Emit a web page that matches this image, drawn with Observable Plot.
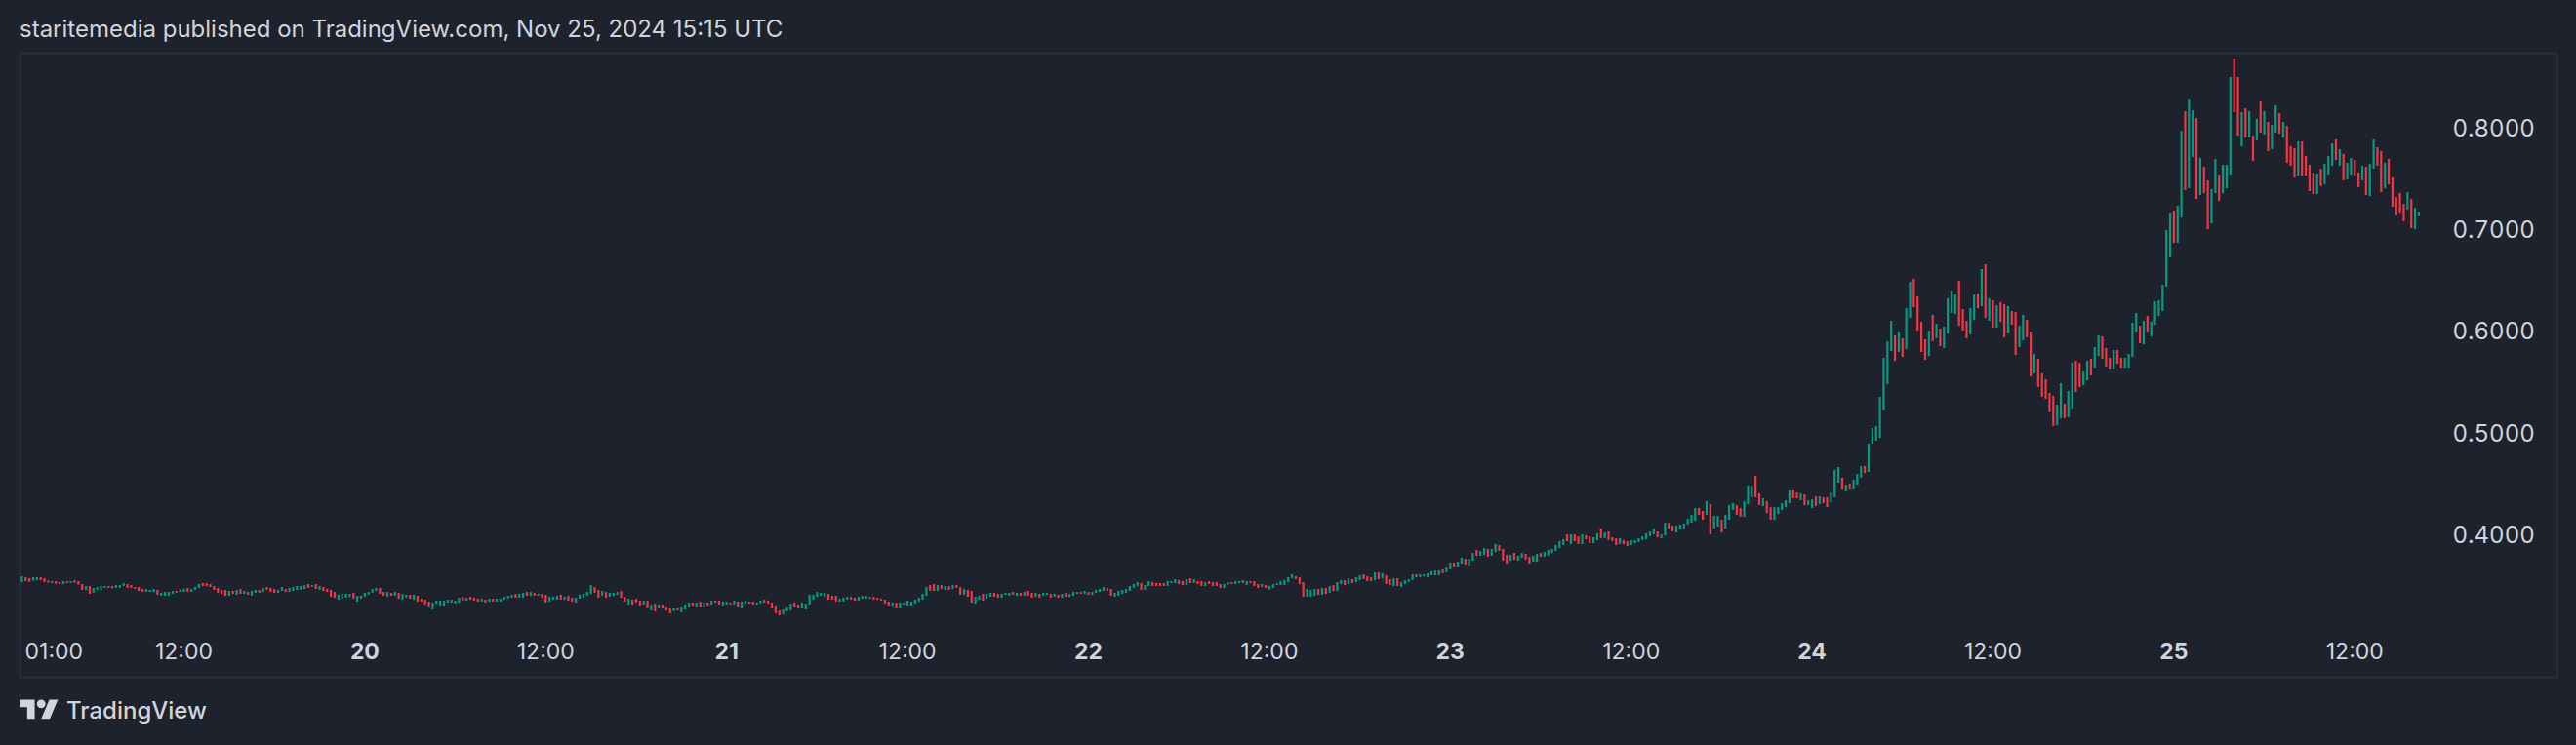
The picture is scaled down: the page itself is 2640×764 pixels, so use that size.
<!DOCTYPE html>
<html>
<head>
<meta charset="utf-8">
<script src="https://cdn.jsdelivr.net/npm/d3@7"></script>
<script src="https://cdn.jsdelivr.net/npm/@observablehq/plot@0.6"></script>
<style>
  html, body { margin: 0; padding: 0; background: #1e222d; }
  #root { position: relative; width: 2640px; height: 764px; overflow: hidden; background: #1e222d; font-family: Inter, "Noto Sans", sans-serif; }
  #title { position: absolute; left: 20px; top: 18px; font-size: 24px; line-height: 24px; color: #d1d4dc; white-space: nowrap; }
  #chart { position: absolute; left: 0; top: 44px; }
  #chart svg { display: block; }
  #brand { position: absolute; left: 20px; top: 712px; height: 32px; display: flex; align-items: center; color: #d1d4dc; font-size: 24px; font-weight: 500; }
  #brand svg { display: block; margin-right: 8px; }
</style>
</head>
<body>
<div id="root">
  <div id="title">staritemedia published on TradingView.com, Nov 25, 2024 15:15 UTC</div>
  <div id="chart"></div>
  <div id="brand">
    <svg width="40" height="31" viewBox="0 0 36 28"><path fill="#d1d4dc" d="M14 22H7V11H0V4h14v18zM28 22h-8l7.5-18h8L28 22z"/><circle fill="#d1d4dc" cx="20" cy="8" r="4"/></svg>
    <span>TradingView</span>
  </div>
</div>
<script>
// ---- Data: 15-minute candles (chart time, UTC+1), first bar Nov 19 01:15 ----
const startTime = "2024-11-19T01:15:00Z";
const stepMinutes = 15;

const open = [
/*0*/ .3540,.3588,.3579,.3553,.3559,.3588,.3579,.3556,.3531,.3550,
/*10*/ .3540,.3521,.3550,.3531,.3559,.3550,.3521,.3464,.3502,.3435,
/*20*/ .3464,.3464,.3483,.3502,.3502,.3483,.3483,.3502,.3521,.3511,
/*30*/ .3492,.3492,.3473,.3444,.3444,.3444,.3464,.3406,.3406,.3406,
/*40*/ .3425,.3454,.3444,.3444,.3483,.3444,.3464,.3483,.3531,.3531,
/*50*/ .3521,.3502,.3483,.3464,.3464,.3406,.3454,.3416,.3473,.3425,
/*60*/ .3444,.3406,.3435,.3464,.3444,.3492,.3483,.3473,.3435,.3454,
/*70*/ .3473,.3444,.3454,.3464,.3464,.3473,.3521,.3492,.3521,.3464,
/*80*/ .3492,.3473,.3464,.3444,.3368,.3377,.3387,.3396,.3435,.3349,
/*90*/ .3377,.3396,.3416,.3435,.3454,.3483,.3444,.3396,.3435,.3406,
/*100*/ .3435,.3368,.3387,.3416,.3368,.3406,.3377,.3368,.3349,.3272,
/*110*/ .3329,.3310,.3310,.3339,.3339,.3329,.3339,.3396,.3358,.3396,
/*120*/ .3387,.3377,.3349,.3368,.3349,.3377,.3349,.3349,.3368,.3377,
/*130*/ .3387,.3425,.3387,.3387,.3444,.3406,.3435,.3406,.3425,.3416,
/*140*/ .3349,.3368,.3368,.3416,.3368,.3406,.3387,.3339,.3377,.3387,
/*150*/ .3406,.3425,.3492,.3464,.3406,.3444,.3396,.3406,.3416,.3454,
/*160*/ .3396,.3320,.3368,.3377,.3358,.3320,.3358,.3262,.3329,.3282,
/*170*/ .3320,.3301,.3282,.3253,.3291,.3243,.3272,.3301,.3339,.3301,
/*180*/ .3349,.3301,.3339,.3320,.3358,.3358,.3310,.3320,.3339,.3320,
/*190*/ .3349,.3291,.3329,.3349,.3349,.3320,.3329,.3368,.3358,.3339,
/*200*/ .3310,.3262,.3224,.3253,.3262,.3339,.3320,.3282,.3272,.3320,
/*210*/ .3368,.3396,.3406,.3396,.3425,.3406,.3406,.3349,.3349,.3368,
/*220*/ .3396,.3387,.3358,.3377,.3377,.3377,.3396,.3387,.3377,.3368,
/*230*/ .3349,.3310,.3339,.3291,.3320,.3310,.3310,.3329,.3349,.3368,
/*240*/ .3406,.3511,.3521,.3454,.3511,.3464,.3502,.3473,.3511,.3492,
/*250*/ .3416,.3464,.3454,.3329,.3368,.3425,.3377,.3396,.3435,.3425,
/*260*/ .3387,.3416,.3406,.3444,.3406,.3435,.3406,.3454,.3435,.3396,
/*270*/ .3425,.3406,.3416,.3425,.3396,.3416,.3387,.3435,.3396,.3406,
/*280*/ .3425,.3444,.3425,.3444,.3416,.3435,.3444,.3454,.3483,.3473,
/*290*/ .3396,.3406,.3425,.3435,.3454,.3483,.3502,.3531,.3464,.3502,
/*300*/ .3540,.3531,.3531,.3531,.3502,.3531,.3531,.3559,.3550,.3511,
/*310*/ .3578,.3531,.3550,.3550,.3502,.3550,.3540,.3540,.3521,.3483,
/*320*/ .3511,.3540,.3521,.3531,.3559,.3511,.3550,.3550,.3521,.3492,
/*330*/ .3511,.3464,.3483,.3511,.3511,.3511,.3540,.3578,.3598,.3588,
/*340*/ .3540,.3396,.3396,.3406,.3473,.3416,.3483,.3435,.3511,.3454,
/*350*/ .3521,.3559,.3521,.3569,.3540,.3559,.3617,.3598,.3588,.3559,
/*360*/ .3636,.3578,.3607,.3569,.3502,.3578,.3492,.3521,.3540,.3559,
/*370*/ .3617,.3588,.3598,.3588,.3607,.3607,.3607,.3665,.3636,.3665,
/*380*/ .3732,.3693,.3722,.3770,.3703,.3751,.3856,.3799,.3808,.3866,
/*390*/ .3799,.3837,.3904,.3866,.3808,.3751,.3827,.3751,.3780,.3818,
/*400*/ .3789,.3741,.3741,.3827,.3789,.3799,.3827,.3847,.3875,.3904,
/*410*/ .4009,.3914,.4009,.3990,.3914,.4000,.3990,.3923,.3952,.4067,
/*420*/ .3971,.4038,.3981,.3971,.3914,.3952,.3942,.3904,.3923,.3933,
/*430*/ .3952,.3961,.3990,.4009,.4038,.3971,.4000,.4124,.4095,.4028,
/*440*/ .4057,.4067,.4105,.4124,.4143,.4268,.4239,.4201,.4306,.4067,
/*450*/ .4086,.4153,.4067,.4153,.4249,.4297,.4268,.4182,.4306,.4373,
/*460*/ .4584,.4412,.4287,.4335,.4277,.4153,.4210,.4249,.4277,.4316,
/*470*/ .4450,.4421,.4345,.4402,.4297,.4268,.4383,.4306,.4373,.4373,
/*480*/ .4325,.4373,.4517,.4565,.4431,.4507,.4459,.4498,.4565,.4680,
/*490*/ .4622,.4900,.4930,.4958,.5235,.5485,.5810,.5963,.5801,.5935,
/*500*/ .5829,.6136,.6519,.6347,.6098,.5925,.5762,.6165,.5935,.6031,
/*510*/ .5839,.5983,.6184,.6174,.6500,.6222,.6107,.5973,.6117,.6375,
/*520*/ .6251,.6663,.6107,.6308,.6040,.6289,.6270,.5992,.6203,.6193,
/*530*/ .5848,.5916,.6117,.6002,.5590,.5734,.5590,.5532,.5398,.5370,
/*540*/ .5082,.5149,.5293,.5159,.5245,.5714,.5695,.5475,.5523,.5734,
/*550*/ .5647,.5762,.5954,.5839,.5743,.5638,.5820,.5743,.5647,.5647,
/*560*/ .5753,.6002,.6059,.5877,.6155,.5954,.6069,.6155,.6203,.6442,
/*570*/ .6730,.7189,.6873,.7122,.8166,.7410,.7716,.8099,.7343,.7620,
/*580*/ .7487,.7065,.7362,.7544,.7362,.7410,.7544,.8684,.8502,.7822,
/*590*/ .8195,.7908,.7927,.7879,.8262,.7937,.8061,.7793,.7956,.8147,
/*600*/ .7908,.8023,.7822,.7803,.7534,.7870,.7726,.7640,.7563,.7352,
/*610*/ .7601,.7448,.7544,.7630,.7889,.7630,.7745,.7496,.7544,.7688,
/*620*/ .7563,.7487,.7620,.7333,.7601,.7812,.7774,.7410,.7697,.7515,
/*630*/ .7323,.7362,.7256,.7199,.7304,.7007,.7141
];

const close = [
/*0*/ .3598,.3550,.3543,.3588,.3588,.3559,.3540,.3534,.3550,.3524,
/*10*/ .3521,.3550,.3531,.3550,.3534,.3515,.3464,.3502,.3425,.3483,
/*20*/ .3492,.3502,.3502,.3483,.3479,.3511,.3511,.3531,.3483,.3483,
/*30*/ .3473,.3454,.3444,.3473,.3464,.3473,.3416,.3435,.3444,.3444,
/*40*/ .3454,.3435,.3464,.3473,.3444,.3473,.3492,.3521,.3502,.3502,
/*50*/ .3492,.3464,.3435,.3425,.3406,.3454,.3425,.3464,.3425,.3454,
/*60*/ .3416,.3454,.3464,.3435,.3483,.3464,.3444,.3435,.3464,.3492,
/*70*/ .3444,.3483,.3492,.3502,.3502,.3511,.3483,.3511,.3473,.3502,
/*80*/ .3454,.3444,.3396,.3387,.3416,.3425,.3425,.3425,.3377,.3406,
/*90*/ .3406,.3435,.3444,.3473,.3483,.3425,.3406,.3444,.3406,.3444,
/*100*/ .3377,.3425,.3416,.3377,.3416,.3349,.3349,.3320,.3301,.3339,
/*110*/ .3358,.3358,.3358,.3368,.3368,.3358,.3387,.3358,.3387,.3368,
/*120*/ .3358,.3349,.3377,.3339,.3377,.3349,.3377,.3377,.3396,.3406,
/*130*/ .3416,.3387,.3425,.3435,.3406,.3444,.3406,.3425,.3387,.3339,
/*140*/ .3396,.3396,.3406,.3368,.3396,.3358,.3349,.3387,.3416,.3425,
/*150*/ .3444,.3511,.3435,.3387,.3454,.3387,.3435,.3435,.3444,.3387,
/*160*/ .3349,.3377,.3320,.3339,.3310,.3358,.3291,.3320,.3253,.3320,
/*170*/ .3282,.3262,.3234,.3282,.3262,.3301,.3320,.3339,.3310,.3339,
/*180*/ .3301,.3339,.3310,.3358,.3339,.3320,.3349,.3349,.3320,.3358,
/*190*/ .3301,.3349,.3358,.3329,.3320,.3339,.3358,.3339,.3329,.3291,
/*200*/ .3234,.3214,.3272,.3301,.3329,.3301,.3282,.3339,.3329,.3416,
/*210*/ .3416,.3444,.3435,.3435,.3368,.3368,.3349,.3377,.3387,.3396,
/*220*/ .3368,.3358,.3396,.3406,.3406,.3396,.3368,.3368,.3358,.3329,
/*230*/ .3310,.3339,.3291,.3339,.3339,.3358,.3349,.3368,.3387,.3425,
/*240*/ .3492,.3454,.3454,.3511,.3473,.3502,.3464,.3511,.3483,.3416,
/*250*/ .3473,.3396,.3339,.3396,.3406,.3358,.3425,.3435,.3396,.3387,
/*260*/ .3425,.3435,.3435,.3416,.3435,.3406,.3444,.3406,.3387,.3435,
/*270*/ .3387,.3435,.3435,.3387,.3425,.3387,.3425,.3396,.3425,.3444,
/*280*/ .3444,.3425,.3454,.3416,.3444,.3464,.3473,.3492,.3454,.3406,
/*290*/ .3435,.3454,.3464,.3473,.3502,.3521,.3540,.3464,.3511,.3550,
/*300*/ .3502,.3502,.3502,.3502,.3550,.3550,.3569,.3521,.3511,.3569,
/*310*/ .3531,.3569,.3521,.3502,.3540,.3521,.3502,.3502,.3483,.3521,
/*320*/ .3540,.3521,.3550,.3550,.3531,.3550,.3531,.3502,.3483,.3521,
/*330*/ .3483,.3502,.3521,.3531,.3550,.3559,.3588,.3617,.3569,.3521,
/*340*/ .3396,.3473,.3464,.3473,.3416,.3483,.3425,.3502,.3454,.3540,
/*350*/ .3559,.3511,.3578,.3531,.3588,.3607,.3569,.3550,.3550,.3636,
/*360*/ .3569,.3626,.3521,.3511,.3578,.3502,.3540,.3559,.3569,.3617,
/*370*/ .3588,.3617,.3617,.3626,.3646,.3655,.3655,.3626,.3693,.3732,
/*380*/ .3693,.3741,.3780,.3713,.3770,.3827,.3799,.3847,.3875,.3789,
/*390*/ .3866,.3914,.3847,.3751,.3722,.3808,.3760,.3799,.3827,.3760,
/*400*/ .3722,.3799,.3818,.3789,.3837,.3856,.3866,.3904,.3942,.3962,
/*410*/ .3942,.4009,.3942,.3914,.4009,.3962,.3923,.3981,.4019,.3971,
/*420*/ .4029,.3952,.3942,.3904,.3971,.3914,.3895,.3952,.3952,.3971,
/*430*/ .3990,.4019,.4038,.4067,.3980,.4009,.4124,.4067,.4038,.4095,
/*440*/ .4105,.4115,.4162,.4201,.4268,.4201,.4153,.4335,.4009,.4191,
/*450*/ .4191,.4028,.4201,.4297,.4316,.4201,.4182,.4335,.4488,.4488,
/*460*/ .4373,.4297,.4364,.4220,.4153,.4277,.4277,.4316,.4345,.4450,
/*470*/ .4364,.4364,.4412,.4297,.4345,.4354,.4287,.4383,.4316,.4277,
/*480*/ .4421,.4641,.4670,.4459,.4498,.4459,.4546,.4603,.4680,.4612,
/*490*/ .4900,.5053,.5073,.5360,.5743,.5906,.6107,.5714,.6002,.5753,
/*500*/ .6232,.6490,.6241,.6011,.5801,.5724,.6011,.5906,.6078,.5858,
/*510*/ .6050,.6328,.6404,.6366,.6059,.6011,.5935,.6232,.6366,.6232,
/*520*/ .6615,.6136,.6328,.6040,.6260,.6098,.5944,.6251,.6069,.5772,
/*530*/ .6059,.6165,.5944,.5561,.5781,.5456,.5360,.5341,.5216,.5073,
/*540*/ .5283,.5494,.5149,.5418,.5695,.5408,.5456,.5619,.5714,.5571,
/*550*/ .5848,.5963,.5734,.5657,.5638,.5820,.5686,.5647,.5743,.5781,
/*560*/ .6088,.6184,.5887,.6107,.6002,.6098,.6299,.6308,.6462,.6998,
/*570*/ .7170,.6873,.7237,.7975,.7391,.8282,.8176,.7304,.7707,.7362,
/*580*/ .7007,.7400,.7697,.7285,.7640,.7640,.8502,.8157,.7927,.8157,
/*590*/ .7908,.8166,.7678,.8090,.7956,.8166,.7774,.8032,.8224,.7946,
/*600*/ .8061,.7659,.7630,.7515,.7870,.7534,.7534,.7381,.7352,.7554,
/*610*/ .7429,.7649,.7726,.7850,.7688,.7793,.7487,.7659,.7707,.7534,
/*620*/ .7420,.7630,.7343,.7649,.7889,.7630,.7372,.7659,.7448,.7228,
/*630*/ .7151,.7170,.7084,.7372,.7017,.7218,.7180
];

// Axis ticks
const priceTicks = [0.4, 0.5, 0.6, 0.7, 0.8];
const hourTickTimes = ["2024-11-19T12:00Z","2024-11-20T12:00Z","2024-11-21T12:00Z","2024-11-22T12:00Z","2024-11-23T12:00Z","2024-11-24T12:00Z","2024-11-25T12:00Z"];
const hourTickLabels = ["12:00","12:00","12:00","12:00","12:00","12:00","12:00"];
const dayTickTimes = ["2024-11-20T00:00Z","2024-11-21T00:00Z","2024-11-22T00:00Z","2024-11-23T00:00Z","2024-11-24T00:00Z","2024-11-25T00:00Z"];
const dayTickLabels = ["20","21","22","23","24","25"];
const firstTickTime = ["2024-11-19T01:00Z"];
const firstTickLabel = ["01:00"];

if (open.length !== close.length) throw new Error("length mismatch " + open.length + " vs " + close.length);

const t0 = Date.parse(startTime);
const step = stepMinutes * 60000;
const candles = open.map((o, i) => ({t: new Date(t0 + i * step), o, c: close[i]}));
const up = candles.filter(d => d.c >= d.o);
const down = candles.filter(d => d.c < d.o);

const mkTicks = (times, labels) => times.map((t, i) => ({t: new Date(t), label: labels[i]}));
const hourTicks = mkTicks(hourTickTimes, hourTickLabels);
const dayTicks = mkTicks(dayTickTimes, dayTickLabels);
const firstTick = mkTicks(firstTickTime, firstTickLabel);

const GREEN = "#089981", RED = "#f23645", TEXT = "#d1d4dc";

const chart = Plot.plot({
  width: 2640,
  height: 660,
  marginLeft: 20,
  marginRight: 20,
  marginTop: 10,
  marginBottom: 10,
  style: {background: "transparent", color: TEXT, fontFamily: "Inter, 'Noto Sans', sans-serif"},
  x: {type: "utc", axis: null, domain: [new Date(t0 - 0.49 * step), new Date(t0 + 672.65 * step)]},
  y: {axis: null, domain: [0.26111, 0.87414]},
  marks: [
    Plot.frame({stroke: "#2a2e39", strokeWidth: 2}),
    Plot.ruleX(up, {x: "t", y1: "o", y2: "c", stroke: GREEN, strokeWidth: 2.2}),
    Plot.ruleX(down, {x: "t", y1: "o", y2: "c", stroke: RED, strokeWidth: 2.2}),
    Plot.axisY({anchor: "right", ticks: priceTicks, tickFormat: d => d.toFixed(4), tickSize: 0, tickPadding: 0, dx: -107, textAnchor: "start", fontSize: 24, fill: TEXT, label: null}),
    Plot.text(hourTicks, {x: "t", text: "label", frameAnchor: "bottom", dy: -26, lineAnchor: "middle", fontSize: 23, fill: TEXT}),
    Plot.text(dayTicks, {x: "t", text: "label", frameAnchor: "bottom", dy: -26, lineAnchor: "middle", fontSize: 23, fontWeight: "bold", fill: TEXT}),
    Plot.text(firstTick, {x: "t", text: "label", frameAnchor: "bottom", dy: -26, dx: 7, textAnchor: "start", lineAnchor: "middle", fontSize: 23, fill: TEXT})
  ]
});
document.getElementById("chart").appendChild(chart);
</script>
</body>
</html>
